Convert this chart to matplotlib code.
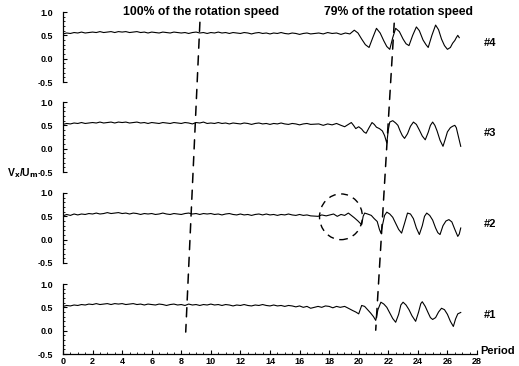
import numpy as np
import matplotlib
matplotlib.use("Agg")
import matplotlib.pyplot as plt
from matplotlib.patches import ConnectionPatch, Ellipse
from matplotlib.ticker import MultipleLocator

plt.rcParams['font.family'] = ['Liberation Sans', 'DejaVu Sans']
plt.rcParams['font.weight'] = 'bold'

# steady part, sampled every 0.25 period from 0 to 16.75
flat_period = np.arange(0, 17, 0.25)

flat_4 = [0.53, 0.55, 0.54, 0.56, 0.55, 0.57, 0.55, 0.56,
          0.57, 0.56, 0.58, 0.56, 0.57, 0.58, 0.56, 0.58,
          0.57, 0.58, 0.56, 0.57, 0.58, 0.56, 0.57, 0.55,
          0.57, 0.56, 0.55, 0.57, 0.56, 0.55, 0.57, 0.56,
          0.55, 0.56, 0.54, 0.56, 0.57, 0.55, 0.56, 0.54,
          0.56, 0.55, 0.57, 0.55, 0.56, 0.54, 0.56, 0.55,
          0.54, 0.56, 0.55, 0.53, 0.55, 0.56, 0.54, 0.55,
          0.53, 0.55, 0.54, 0.56, 0.54, 0.53, 0.55, 0.54,
          0.52, 0.54, 0.55, 0.53]
flat_3 = [0.52, 0.54, 0.53, 0.55, 0.54, 0.56, 0.54, 0.55,
          0.56, 0.55, 0.57, 0.55, 0.56, 0.57, 0.55, 0.57,
          0.56, 0.57, 0.55, 0.56, 0.57, 0.55, 0.56, 0.54,
          0.56, 0.55, 0.54, 0.56, 0.55, 0.54, 0.56, 0.55,
          0.54, 0.56, 0.55, 0.53, 0.56, 0.55, 0.57, 0.54,
          0.55, 0.54, 0.56, 0.54, 0.55, 0.53, 0.55, 0.54,
          0.53, 0.55, 0.54, 0.52, 0.54, 0.55, 0.53, 0.54,
          0.52, 0.54, 0.53, 0.55, 0.53, 0.52, 0.54, 0.53,
          0.51, 0.53, 0.54, 0.52]
flat_2 = [0.51, 0.54, 0.52, 0.55, 0.53, 0.55, 0.54, 0.56,
          0.55, 0.57, 0.55, 0.56, 0.58, 0.56, 0.57, 0.58,
          0.56, 0.57, 0.55, 0.57, 0.56, 0.54, 0.56, 0.55,
          0.56, 0.54, 0.55, 0.57, 0.55, 0.54, 0.56, 0.55,
          0.54, 0.56, 0.57, 0.55, 0.56, 0.54, 0.56, 0.55,
          0.56, 0.54, 0.55, 0.53, 0.55, 0.56, 0.54, 0.53,
          0.55, 0.53, 0.54, 0.52, 0.54, 0.55, 0.53, 0.55,
          0.53, 0.54, 0.52, 0.54, 0.53, 0.55, 0.53, 0.52,
          0.54, 0.52, 0.53, 0.51]
flat_1 = [0.52, 0.54, 0.53, 0.55, 0.54, 0.56, 0.55, 0.57,
          0.56, 0.58, 0.56, 0.57, 0.58, 0.56, 0.58, 0.57,
          0.58, 0.56, 0.57, 0.58, 0.56, 0.57, 0.55, 0.57,
          0.56, 0.55, 0.57, 0.56, 0.54, 0.56, 0.57, 0.55,
          0.56, 0.54, 0.57, 0.55, 0.56, 0.54, 0.56, 0.55,
          0.57, 0.55, 0.56, 0.54, 0.56, 0.55, 0.53, 0.55,
          0.54, 0.56, 0.54, 0.53, 0.55, 0.54, 0.56, 0.54,
          0.53, 0.55, 0.53, 0.54, 0.52, 0.54, 0.53, 0.51,
          0.53, 0.50, 0.52, 0.48]

# unsteady part after period 17
osc_period_4 = [17.3, 17.6, 17.9, 18.2, 18.5, 18.8, 19.1, 19.4, 19.7, 19.95,
                20.2, 20.45, 20.7, 20.95, 21.2, 21.45, 21.7, 21.9, 22.1, 22.3,
                22.5, 22.75, 23.0, 23.2, 23.4, 23.65, 23.9, 24.1, 24.35, 24.55,
                24.7, 24.95, 25.2, 25.4, 25.6, 25.8, 26.0, 26.2, 26.35, 26.5,
                26.6, 26.7, 26.8]
osc_vel_4 = [0.55, 0.53, 0.56, 0.54, 0.55, 0.52, 0.55, 0.53, 0.61, 0.55,
             0.42, 0.30, 0.24, 0.45, 0.65, 0.55, 0.38, 0.26, 0.20, 0.45,
             0.65, 0.58, 0.42, 0.32, 0.28, 0.50, 0.68, 0.60, 0.40, 0.30,
             0.24, 0.50, 0.72, 0.62, 0.42, 0.28, 0.20, 0.24, 0.33, 0.39,
             0.45, 0.50, 0.45]

osc_period_3 = [17.3, 17.6, 17.9, 18.2, 18.5, 18.8, 19.05, 19.3, 19.5, 19.65,
                19.8, 20.0, 20.2, 20.35, 20.5, 20.7, 20.9, 21.05, 21.2, 21.4,
                21.6, 21.75, 21.9, 22.0, 22.1, 22.3, 22.5, 22.65, 22.8, 22.95,
                23.1, 23.3, 23.5, 23.7, 23.9, 24.1, 24.3, 24.5, 24.7, 24.85,
                25.0, 25.15, 25.3, 25.5, 25.7, 25.85, 26.0, 26.2, 26.35, 26.5,
                26.6, 26.75, 26.9]
osc_vel_3 = [0.53, 0.50, 0.53, 0.51, 0.54, 0.50, 0.47, 0.52, 0.56, 0.50,
             0.43, 0.47, 0.42, 0.36, 0.33, 0.45, 0.56, 0.52, 0.46, 0.43,
             0.38, 0.28, 0.12, 0.40, 0.57, 0.60, 0.55, 0.50, 0.38, 0.28,
             0.22, 0.32, 0.48, 0.57, 0.52, 0.40, 0.27, 0.19, 0.35, 0.50,
             0.57, 0.50, 0.38, 0.18, 0.05, 0.20, 0.36, 0.45, 0.48, 0.50,
             0.45, 0.25, 0.05]

osc_period_2 = [17.25, 17.5, 17.8, 18.05, 18.3, 18.55, 18.8, 19.05, 19.3, 19.5,
                19.7, 19.95, 20.2, 20.3, 20.4, 20.6, 20.85, 21.05, 21.25, 21.4,
                21.5, 21.6, 21.75, 21.9, 22.1, 22.3, 22.5, 22.7, 22.9, 23.1,
                23.3, 23.5, 23.7, 23.9, 24.1, 24.3, 24.45, 24.6, 24.8, 25.0,
                25.2, 25.35, 25.5, 25.7, 25.9, 26.1, 26.3, 26.5, 26.7, 26.8,
                26.9]
osc_vel_2 = [0.50, 0.53, 0.51, 0.53, 0.55, 0.50, 0.54, 0.52, 0.57, 0.52,
             0.47, 0.40, 0.32, 0.50, 0.57, 0.55, 0.52, 0.45, 0.39, 0.22,
             0.14, 0.30, 0.52, 0.59, 0.55, 0.48, 0.35, 0.22, 0.14, 0.35,
             0.57, 0.55, 0.45, 0.25, 0.11, 0.30, 0.50, 0.57, 0.52, 0.42,
             0.25, 0.15, 0.11, 0.30, 0.40, 0.43, 0.38, 0.22, 0.07, 0.12,
             0.25]

osc_period_1 = [17.25, 17.5, 17.75, 18.0, 18.25, 18.5, 18.75, 19.05, 19.3, 19.6,
                19.8, 20.0, 20.2, 20.4, 20.6, 20.8, 21.0, 21.15, 21.3, 21.5,
                21.7, 21.9, 22.1, 22.3, 22.5, 22.7, 22.85, 23.0, 23.2, 23.4,
                23.6, 23.85, 24.05, 24.2, 24.3, 24.5, 24.7, 24.85, 25.0, 25.2,
                25.4, 25.6, 25.8, 26.0, 26.2, 26.4, 26.55, 26.7, 26.9]
osc_vel_1 = [0.52, 0.50, 0.53, 0.52, 0.49, 0.52, 0.50, 0.52, 0.48, 0.43,
             0.40, 0.36, 0.54, 0.52, 0.45, 0.38, 0.30, 0.22, 0.45, 0.61,
             0.57, 0.50, 0.38, 0.26, 0.18, 0.35, 0.55, 0.61, 0.55, 0.45,
             0.32, 0.20, 0.40, 0.58, 0.62, 0.52, 0.38, 0.28, 0.24, 0.28,
             0.40, 0.48, 0.45, 0.35, 0.20, 0.09, 0.25, 0.36, 0.39]

labels = ['#4', '#3', '#2', '#1']
flats = [flat_4, flat_3, flat_2, flat_1]
osc_periods = [osc_period_4, osc_period_3, osc_period_2, osc_period_1]
osc_vels = [osc_vel_4, osc_vel_3, osc_vel_2, osc_vel_1]

# speed-change marker lines: (period, value) at top panel and bottom panel
line_100_top, line_100_bottom = (9.26, 0.78), (8.3, -0.03)
line_79_top, line_79_bottom = (22.4, 0.76), (21.15, 0.01)

W, H = 519, 366
fig = plt.figure(figsize=(W / 100, H / 100), dpi=100)
left, right = 63, 477
tops = [12, 102, 193, 284]
panel_h = 70

axes = []
for i, top in enumerate(tops):
    ax = fig.add_axes([left / W, 1 - (top + panel_h) / H, (right - left) / W, panel_h / H])
    x = np.concatenate([flat_period, osc_periods[i]])
    y = np.concatenate([flats[i], osc_vels[i]])
    ax.plot(x, y, color='black', lw=0.8)
    ax.set_xlim(0, 28)
    ax.set_ylim(-0.5, 1.0)
    ax.set_yticks([-0.5, 0.0, 0.5, 1.0])
    ax.set_yticklabels(['-0.5', '0.0', '0.5', '1.0'])
    ax.yaxis.set_minor_locator(MultipleLocator(0.1))
    ax.tick_params(axis='y', which='major', direction='in', length=3, width=0.8,
                   labelsize=6.5, pad=7)
    ax.tick_params(axis='y', which='minor', direction='in', length=1.5, width=0.6)
    for s in ['top', 'right']:
        ax.spines[s].set_visible(False)
    ax.spines['left'].set_linewidth(0.9)
    ax.patch.set_alpha(0)
    if i < 3:
        ax.spines['bottom'].set_visible(False)
        ax.tick_params(axis='x', which='both', bottom=False, labelbottom=False)
    else:
        ax.spines['bottom'].set_linewidth(0.9)
        ax.set_xticks(np.arange(0, 29, 2))
        ax.xaxis.set_minor_locator(MultipleLocator(0.5))
        ax.tick_params(axis='x', which='major', direction='in', length=3, width=0.8,
                       labelsize=6.5, pad=2)
        ax.tick_params(axis='x', which='minor', direction='in', length=1.5, width=0.6)
    fig.text(484 / W, 1 - (top + 31) / H, labels[i], fontsize=8, fontweight='bold',
             va='center', ha='left')
    axes.append(ax)

# dashed circle on #2
axes[2].add_patch(Ellipse((18.8, 0.49), 2.9, 0.98, fill=False, ls=(0, (5, 4)),
                          lw=1.0, color='black', clip_on=False))

for top_pt, bottom_pt in [(line_100_top, line_100_bottom), (line_79_top, line_79_bottom)]:
    con = ConnectionPatch(xyA=top_pt, coordsA=axes[0].transData,
                          xyB=bottom_pt, coordsB=axes[3].transData,
                          color='black', lw=1.1, ls=(0, (6, 5)))
    fig.add_artist(con)

fig.text(201 / W, 1 - 12 / H, '100% of the rotation speed', fontsize=8.8,
         fontweight='bold', ha='center', va='center')
fig.text(398 / W, 1 - 12 / H, '79% of the rotation speed', fontsize=8.8,
         fontweight='bold', ha='center', va='center')
fig.text(7 / W, 1 - 173 / H, r'V$_\mathbf{x}$/U$_\mathbf{m}$', fontsize=7.5,
         fontweight='bold', ha='left', va='center')
fig.text(480 / W, 1 - 351 / H, 'Period', fontsize=8, fontweight='bold',
         ha='left', va='center')

fig.savefig('out.png', dpi=100)
